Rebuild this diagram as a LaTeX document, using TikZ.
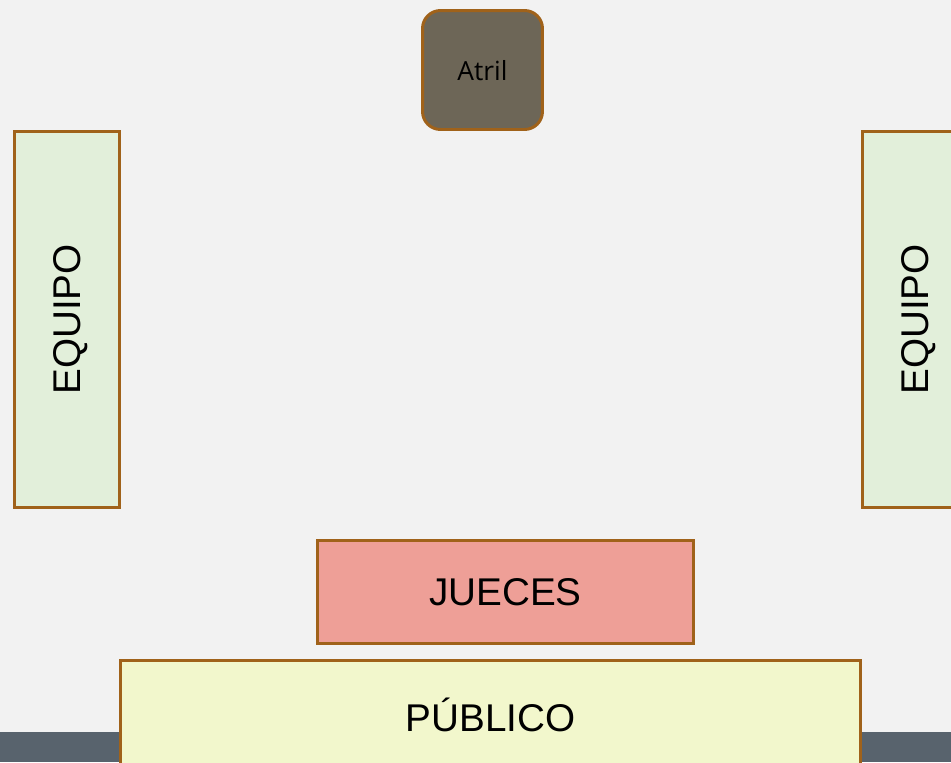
\documentclass[tikz,border=0pt]{standalone}
\usepackage{fontspec}
\setmainfont{Liberation Sans}
\newfontfamily\atrilfont{Open Sans}
\usepackage{xcolor}
\definecolor{fondo}{HTML}{F2F2F2}
\definecolor{suelo}{HTML}{58636D}
\definecolor{borde}{HTML}{A0621A}
\definecolor{verde}{HTML}{E2EFDA}
\definecolor{salmon}{HTML}{EE9F97}
\definecolor{amarillo}{HTML}{F2F7CC}
\definecolor{atril}{HTML}{6D6657}
\newcommand{\grande}{\fontsize{22}{26}\selectfont}

\begin{document}
\begin{tikzpicture}[x = 0.02cm, y = -0.02cm,
    mesa/.style = {draw = borde, line width = 1.7pt, inner sep = 0pt},
    equipo/.style = {mesa, fill = verde, rotate = 90, minimum width = 7.52cm, minimum height = 2.1cm, text depth = 0pt, font = \grande}]
    % Sala
    \useasboundingbox (0,0) rectangle (951,762);
    \clip (0,0) rectangle (951,762);
    \fill[fondo] (0,0) rectangle (951,762);
    \fill[suelo] (0,732) rectangle (951,762);
    % Atril
    \node[mesa, fill = atril, rounded corners = 0.36cm, minimum width = 2.4cm, minimum height = 2.38cm, text depth = 0pt, font = \atrilfont\fontsize{15}{18}\selectfont] (atril) at (482.5,70) {Atril};
    % Equipos
    \node[equipo] (equipoA) at (67,319.5) {EQUIPO};
    \node[equipo] (equipoB) at (915,319.5) {EQUIPO};
    % Jueces y publico
    \node[mesa, fill = salmon, minimum width = 7.52cm, minimum height = 2.06cm, font = \grande] (jueces) at (505.5,592) {JUECES};
    \node[mesa, fill = amarillo, minimum width = 14.8cm, minimum height = 2.18cm, font = \grande] (publico) at (490.5,715) {PÚBLICO};
\end{tikzpicture}
\end{document}
